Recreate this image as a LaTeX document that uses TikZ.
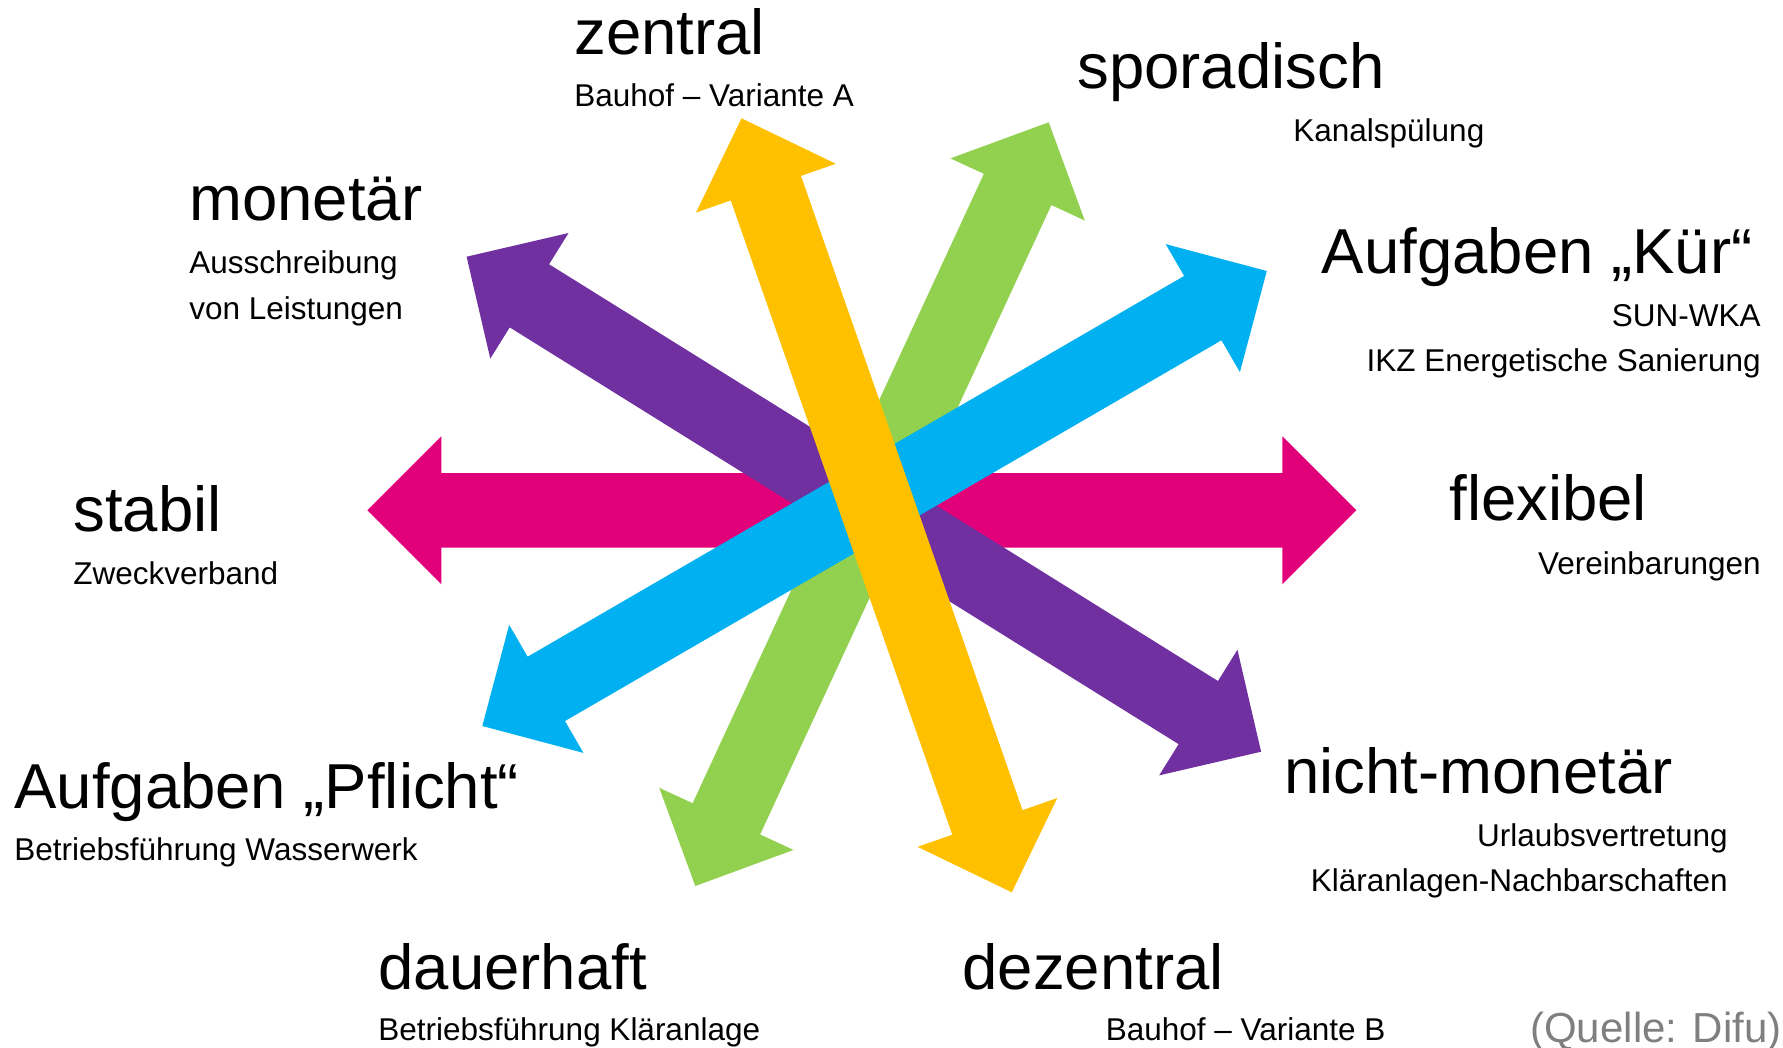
\documentclass[tikz,border=0pt]{standalone}
\usepackage{fontspec}
\setmainfont{Liberation Sans}
\usepackage{tikz}
\usetikzlibrary{
  calc,        % Pfeilspitzen aus den Endpunkten berechnen
  positioning  % relative Platzierung
}

% Farben der fuenf Doppelpfeile
\definecolor{pfmagenta}{HTML}{E2007A}
\definecolor{pflila}{HTML}{7030A0}
\definecolor{pfgelb}{HTML}{FFC000}
\definecolor{pfgruen}{HTML}{92D050}
\definecolor{pfblau}{HTML}{00B0F0}
\definecolor{quellgrau}{HTML}{7F7F7F}

% Masse eines Pfeils (1 Pixel = 0.5pt)
\newcommand{\headlen}{37pt}
\newcommand{\headhalf}{37pt}
\newcommand{\shafthalf}{18.6pt}

% Doppelpfeil: #1 Farbe, #2 und #3 die beiden Spitzen
\newcommand{\doppelpfeil}[3]{%
  \fill[#1] (#2)
    -- ($(#2)!\headlen!(#3)!\headhalf!90:(#3)$)
    -- ($(#2)!\headlen!(#3)!\shafthalf!90:(#3)$)
    -- ($(#3)!\headlen!(#2)!\shafthalf!-90:(#2)$)
    -- ($(#3)!\headlen!(#2)!\headhalf!-90:(#2)$)
    -- (#3)
    -- ($(#3)!\headlen!(#2)!\headhalf!90:(#2)$)
    -- ($(#3)!\headlen!(#2)!\shafthalf!90:(#2)$)
    -- ($(#2)!\headlen!(#3)!\shafthalf!-90:(#3)$)
    -- ($(#2)!\headlen!(#3)!\headhalf!-90:(#3)$)
    -- cycle;}

\tikzset{
  titel/.style={inner sep=0pt, font=\fontsize{31.75}{38}\selectfont},
  beispiel/.style={inner sep=0pt, font=\fontsize{15.75}{19}\selectfont},
  quelle/.style={inner sep=0pt, text=quellgrau, font=\fontsize{21}{25}\selectfont}
}

\begin{document}
\begin{tikzpicture}[x=0.5pt, y=-0.5pt] % Pixelraster, y nach unten

  \useasboundingbox (0,0) rectangle (1783,1048);

  % =============== Spitzen der Pfeile ===============
  \coordinate (stabilSp)    at (367.3,510.3);
  \coordinate (flexibelSp)  at (1356.3,510.3);
  \coordinate (sporadSp)    at (1048.7,122.3);
  \coordinate (dauerSp)     at (695.3,886);
  \coordinate (monetSp)     at (466.6,256.7);
  \coordinate (nichtmonSp)  at (1261.1,751.7);
  \coordinate (kuerSp)      at (1266.8,271);
  \coordinate (pflichtSp)   at (482.3,726);
  \coordinate (zentralSp)   at (741.5,118.3);
  \coordinate (dezentralSp) at (1011.8,892.3);

  % =============== Doppelpfeile (von unten nach oben) ===============
  \doppelpfeil{pfmagenta}{stabilSp}{flexibelSp}
  \doppelpfeil{pfgruen}{sporadSp}{dauerSp}
  \doppelpfeil{pflila}{monetSp}{nichtmonSp}
  \doppelpfeil{pfblau}{kuerSp}{pflichtSp}
  \doppelpfeil{pfgelb}{zentralSp}{dezentralSp}

  % =============== Beschriftung oben ===============
  \node[titel, anchor=base west] (zentral) at (574,55) {zentral};
  \node[beispiel, anchor=base west] (bauhofA) at (574,106.7) {Bauhof – Variante A};
  \node[titel, anchor=base west] (sporadisch) at (1077,88.3) {sporadisch};
  \node[beispiel, anchor=base west] (kanal) at (1293,141.7) {Kanalspülung};

  % =============== Beschriftung links ===============
  \node[titel, anchor=base west] (monetaer) at (189,220.7) {monetär};
  \node[beispiel, anchor=base west] (ausschr) at (189,274) {Ausschreibung};
  \node[beispiel, anchor=base west] (leist) at (189,320) {von Leistungen};
  \node[titel, anchor=base west] (stabil) at (73,531.7) {stabil};
  \node[beispiel, anchor=base west] (zweck) at (73,584) {Zweckverband};
  \node[titel, anchor=base west] (pflicht) at (14,808.3) {Aufgaben „Pflicht“};
  \node[beispiel, anchor=base west] (wasser) at (14,860) {Betriebsführung Wasserwerk};

  % =============== Beschriftung rechts ===============
  \node[titel, anchor=base east] (kuer) at (1753,274) {Aufgaben „Kür“};
  \node[beispiel, anchor=base east] (sun) at (1761,326.7) {SUN-WKA};
  \node[beispiel, anchor=base east] (ikz) at (1761,371.7) {IKZ Energetische Sanierung};
  \node[titel, anchor=base west] (flexibel) at (1449,520.7) {flexibel};
  \node[beispiel, anchor=base east] (vereinb) at (1761,574) {Vereinbarungen};
  \node[titel, anchor=base west] (nichtmon) at (1284,793.3) {nicht-monetär};
  \node[beispiel, anchor=base east] (urlaub) at (1728,846.7) {Urlaubsvertretung};
  \node[beispiel, anchor=base east] (nachbar) at (1728,891.7) {Kläranlagen-Nachbarschaften};

  % =============== Beschriftung unten ===============
  \node[titel, anchor=base west] (dauerhaft) at (378,989.3) {dauerhaft};
  \node[beispiel, anchor=base west] (klaer) at (378,1040) {Betriebsführung Kläranlage};
  \node[titel, anchor=base west] (dezentral) at (962,989.3) {dezentral};
  \node[beispiel, anchor=base west] (bauhofB) at (1105.5,1040) {Bauhof – Variante B};

  \node[quelle, anchor=base east] (quelle) at (1782,1042) {(Quelle: Difu)};

\end{tikzpicture}
\end{document}
